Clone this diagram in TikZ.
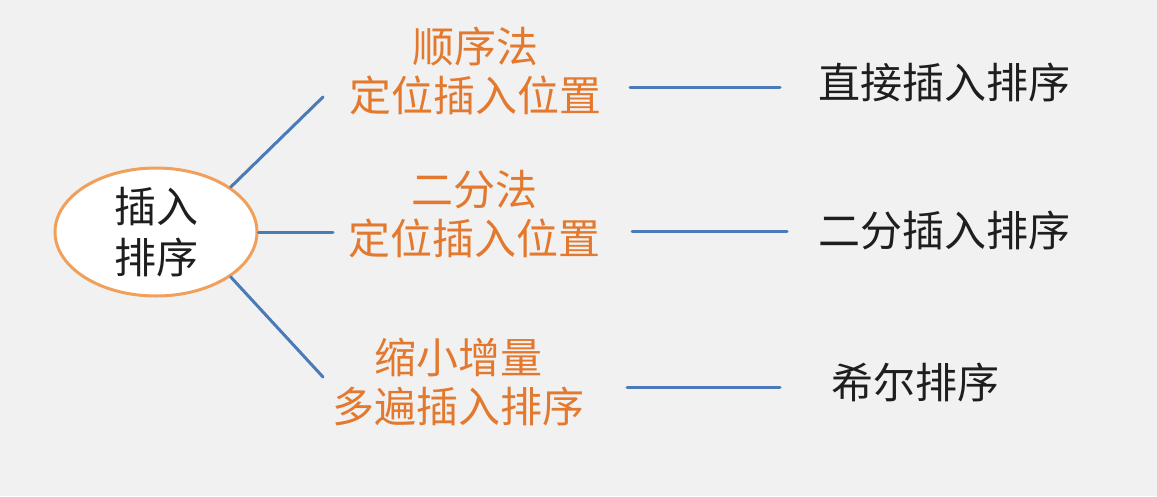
\documentclass[tikz,border=0pt]{standalone}
\usepackage{fontspec}
\newfontfamily\cjk{Noto Sans CJK SC}
\usetikzlibrary{shapes.geometric}
\definecolor{bgc}{HTML}{F1F1F1}
\definecolor{linec}{HTML}{4A7AB8}
\definecolor{orangec}{HTML}{E2792E}
\definecolor{ellc}{HTML}{F0A05A}
\definecolor{textc}{HTML}{1E1E1E}
\tikzset{
  conn/.style={draw=linec, line width=3pt, line cap=round},
  rootbox/.style={ellipse, draw=ellc, line width=3pt, fill=white, minimum width=202pt, minimum height=128pt, inner sep=0pt, align=center, text=textc, font=\cjk\fontsize{42}{51}\selectfont},
  methodbox/.style={align=center, text=orangec, inner sep=0pt, font=\cjk\fontsize{42}{49}\selectfont},
  sortbox/.style={text=textc, inner sep=0pt, font=\cjk\fontsize{42}{49}\selectfont}
}
\begin{document}
\begin{tikzpicture}[x=1pt,y=-1pt]
\fill[bgc] (0,0) rectangle (1157,496);
\useasboundingbox (0,0) rectangle (1157,496);

\node[rootbox] (root) at (156,232) {插入\\排序};

\node[methodbox] (m1) at (475,71) {顺序法\\定位插入位置};
\node[methodbox] (m2) at (474,214) {二分法\\定位插入位置};
\node[methodbox] (m3) at (458,382) {缩小增量\\多遍插入排序};

\node[sortbox] (s1) at (944,82) {直接插入排序};
\node[sortbox] (s2) at (944,230) {二分插入排序};
\node[sortbox] (s3) at (915,382) {希尔排序};

\coordinate (m1in) at (323,97);
\coordinate (m2in) at (333,232);
\coordinate (m3in) at (323,377);
\coordinate (m1out) at (630,87);
\coordinate (m2out) at (632,231);
\coordinate (m3out) at (627,387);
\coordinate (s1in) at (780,87);
\coordinate (s2in) at (787,231);
\coordinate (s3in) at (780,387);

\draw[conn] (root.31.5) -- (m1in);
\draw[conn] (root.east) -- (m2in);
\draw[conn] (root.-31.5) -- (m3in);
\draw[conn] (m1out) -- (s1in);
\draw[conn] (m2out) -- (s2in);
\draw[conn] (m3out) -- (s3in);
\end{tikzpicture}
\end{document}
